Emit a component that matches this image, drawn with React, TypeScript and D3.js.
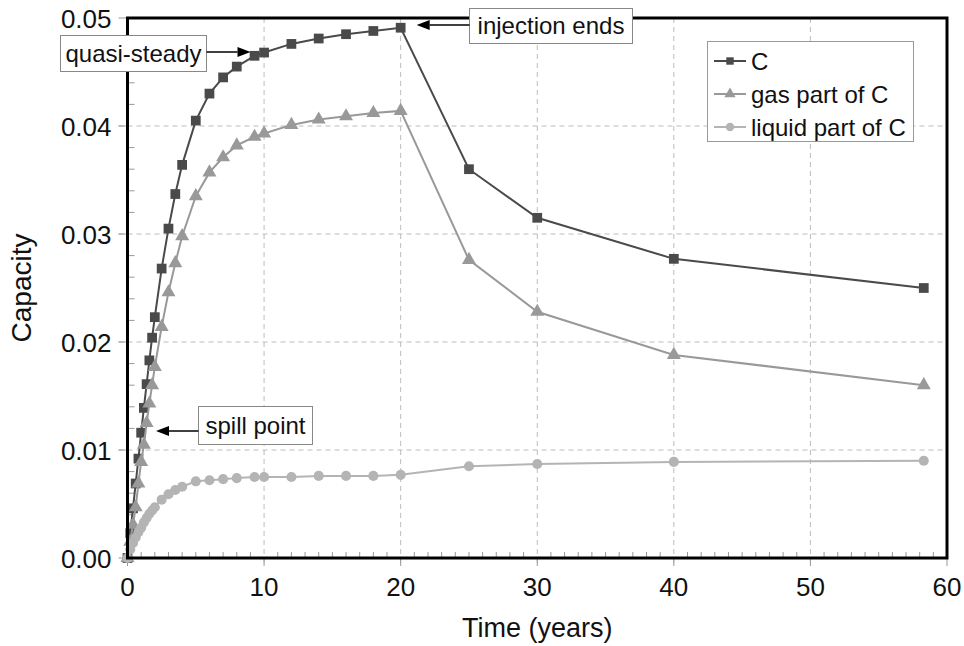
import * as React from 'react';
import * as d3 from 'd3';

const WIDTH = 964;
const HEIGHT = 646;
const margin = { top: 18, right: 17, bottom: 88, left: 127.5 };

// time in years
const times = [
  0, 0.2, 0.4, 0.6, 0.8, 1.0, 1.2, 1.4, 1.6, 1.8, 2.0, 2.5, 3, 3.5, 4, 5, 6, 7, 8, 9.3, 10,
  12, 14, 16, 18, 20, 25, 30, 40, 58.3,
];
const capacityC = [
  0, 0.0023, 0.0046, 0.0069, 0.0092, 0.0116, 0.0139, 0.0161, 0.0183, 0.0204, 0.0223, 0.0268,
  0.0305, 0.0337, 0.0364, 0.0405, 0.043, 0.0445, 0.0455, 0.0465, 0.0468, 0.0476, 0.0481,
  0.0485, 0.0488, 0.0491, 0.036, 0.0315, 0.0277, 0.025,
];
const capacityGas = [
  0, 0.0015, 0.0031, 0.0047, 0.0069, 0.0089, 0.0105, 0.0125, 0.0143, 0.016, 0.0177, 0.0214,
  0.0246, 0.0273, 0.0298, 0.0335, 0.0357, 0.0371, 0.0382, 0.039, 0.0393, 0.0401, 0.0406,
  0.0409, 0.0412, 0.0414, 0.0276, 0.0228, 0.0188, 0.016,
];
const capacityLiquid = [
  0, 0.0008, 0.0014, 0.0019, 0.0024, 0.0028, 0.0033, 0.0037, 0.0041, 0.0044, 0.0047, 0.0054,
  0.0059, 0.0063, 0.0066, 0.0071, 0.0072, 0.0073, 0.0074, 0.0075, 0.0075, 0.0075, 0.0076,
  0.0076, 0.0076, 0.0077, 0.0085, 0.0087, 0.0089, 0.009,
];

const xTicks = [0, 10, 20, 30, 40, 50, 60];
const yTicks = [0, 0.01, 0.02, 0.03, 0.04, 0.05];
const legendLabels = ['C', 'gas part of C', 'liquid part of C'];

const FONT = '"Liberation Sans", Arial, Helvetica, sans-serif';

export default function App() {
  const innerW = WIDTH - margin.left - margin.right;
  const innerH = HEIGHT - margin.top - margin.bottom;

  const x = d3.scaleLinear().domain([0, 60]).range([margin.left, margin.left + innerW]);
  const y = d3.scaleLinear().domain([0, 0.05]).range([margin.top + innerH, margin.top]);

  const series = [
    { name: legendLabels[0], values: capacityC, color: '#4a4a4a', shape: 'square' },
    { name: legendLabels[1], values: capacityGas, color: '#999999', shape: 'triangle' },
    { name: legendLabels[2], values: capacityLiquid, color: '#b4b4b4', shape: 'circle' },
  ];

  const line = d3
    .line<number>()
    .x((_, i) => x(times[i]))
    .y(d => y(d));

  const symbolPath = (shape: string, size: number) => {
    const type =
      shape === 'square' ? d3.symbolSquare : shape === 'triangle' ? d3.symbolTriangle : d3.symbolCircle;
    return d3.symbol().type(type).size(size)() as string;
  };
  const markerSize = (shape: string) => (shape === 'square' ? 95 : shape === 'triangle' ? 85 : 80);

  const minorX = d3.range(0, 61, 1).filter(v => v % 10 !== 0);
  const minorY = d3.range(0.002, 0.05, 0.002).filter(v => Math.abs(v * 100 - Math.round(v * 100)) > 1e-6);

  const x0 = x(0);
  const x1 = x(60);
  const yTop = y(0.05);
  const yBot = y(0);

  const arrow = (fromX: number, toX: number, yy: number, key: string) => {
    const dir = toX > fromX ? 1 : -1;
    const headLen = 13;
    const headW = 5;
    return (
      <g key={key}>
        <line x1={fromX} y1={yy} x2={toX - dir * headLen} y2={yy} stroke="#000" strokeWidth={1.5} />
        <path
          d={`M${toX},${yy}L${toX - dir * headLen},${yy - headW}L${toX - dir * headLen},${yy + headW}Z`}
          fill="#000"
        />
      </g>
    );
  };

  return (
    <svg
      width={WIDTH}
      height={HEIGHT}
      style={{ position: 'absolute', left: 0, top: 0, background: '#fff' }}
      fontFamily={FONT}
    >
      <rect x={x0} y={yTop} width={x1 - x0} height={yBot - yTop} fill="#fff" />

      {/* grid */}
      {xTicks.slice(1, -1).map(t => (
        <line key={'gx' + t} x1={x(t)} x2={x(t)} y1={yTop} y2={yBot + 8} stroke="#bdbdbd" strokeWidth={1} strokeDasharray="5,4" />
      ))}
      {yTicks.slice(1, -1).map(t => (
        <line key={'gy' + t} x1={x0 - 9} x2={x1} y1={y(t)} y2={y(t)} stroke="#bdbdbd" strokeWidth={1} strokeDasharray="5,4" />
      ))}

      {/* ticks */}
      {xTicks.map(t => (
        <line key={'tx' + t} x1={x(t)} x2={x(t)} y1={yBot} y2={yBot + 8} stroke="#999" strokeWidth={1} />
      ))}
      {yTicks.map(t => (
        <line key={'ty' + t} x1={x0 - 9} x2={x0} y1={y(t)} y2={y(t)} stroke="#999" strokeWidth={1} />
      ))}
      {minorX.map(t => (
        <line key={'mx' + t} x1={x(t)} x2={x(t)} y1={yBot} y2={yBot - 6} stroke="#999" strokeWidth={1} />
      ))}
      {minorY.map(t => (
        <line key={'my' + t} x1={x0} x2={x0 + 7} y1={y(t)} y2={y(t)} stroke="#999" strokeWidth={1} />
      ))}

      {/* tick labels */}
      {xTicks.map(t => (
        <text key={'lx' + t} x={x(t)} y={yBot + 38} textAnchor="middle" fontSize={26} fill="#111">
          {t}
        </text>
      ))}
      {yTicks.map(t => (
        <text key={'ly' + t} x={x0 - 16} y={y(t) + 9.5} textAnchor="end" fontSize={26} fill="#111">
          {d3.format('.2f')(t)}
        </text>
      ))}

      {/* axis titles */}
      <text x={(x0 + x1) / 2} y={637} textAnchor="middle" fontSize={27} fill="#111">
        Time (years)
      </text>
      <text transform={`translate(31,${(yTop + yBot) / 2}) rotate(-90)`} textAnchor="middle" fontSize={28} fill="#111">
        Capacity
      </text>

      {/* series */}
      {series.map(s => (
        <g key={s.name}>
          <path d={line(s.values) as string} fill="none" stroke={s.color} strokeWidth={2} />
          {s.values.map((v, i) => (
            <path
              key={i}
              d={symbolPath(s.shape, markerSize(s.shape))}
              transform={`translate(${x(times[i])},${y(v)})`}
              fill={s.color}
            />
          ))}
        </g>
      ))}

      {/* frame */}
      <rect x={x0} y={yTop} width={x1 - x0} height={yBot - yTop} fill="none" stroke="#000" strokeWidth={3} />

      {/* legend */}
      <g>
        <rect x={707.5} y={41.5} width={206} height={100} fill="#fff" stroke="#999" strokeWidth={1} />
        {series.map((s, i) => {
          const ly = 61 + i * 33;
          return (
            <g key={'lg' + s.name}>
              <line x1={714} x2={746} y1={ly} y2={ly} stroke={s.color} strokeWidth={2} />
              <path d={symbolPath(s.shape, 55)} transform={`translate(730,${ly})`} fill={s.color} />
              <text x={751} y={ly + 9} fontSize={24} fill="#111">
                {s.name}
              </text>
            </g>
          );
        })}
      </g>

      {/* annotations */}
      <g>
        <rect x={60.5} y={35.5} width={146} height={36} fill="#fff" stroke="#888" strokeWidth={1} />
        <text x={133.5} y={62} textAnchor="middle" fontSize={24} fill="#111">
          quasi-steady
        </text>
        {arrow(206.5, x(9.3) - 4, 52, 'a1')}

        <rect x={469.5} y={8.5} width={163} height={35} fill="#fff" stroke="#888" strokeWidth={1} />
        <text x={551} y={34} textAnchor="middle" fontSize={24} fill="#111">
          injection ends
        </text>
        {arrow(469.5, x(20) + 16, 25, 'a2')}

        <rect x={198.5} y={406.5} width={114} height={38} fill="#fff" stroke="#888" strokeWidth={1} />
        <text x={255.5} y={434} textAnchor="middle" fontSize={24} fill="#111">
          spill point
        </text>
        {arrow(198.5, 156, 431, 'a3')}
      </g>
    </svg>
  );
}
